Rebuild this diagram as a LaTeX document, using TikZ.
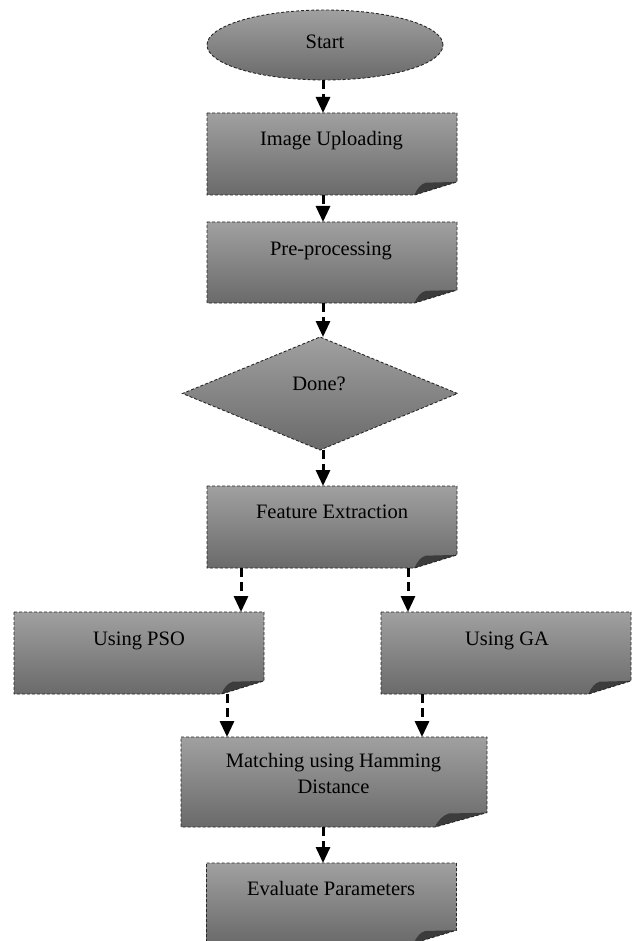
\documentclass[tikz,border=0pt]{standalone}
\usepackage{fontspec}
\setmainfont{Liberation Serif}
\usetikzlibrary{shapes.geometric,arrows.meta,calc}
\definecolor{topgray}{RGB}{160,160,160}
\definecolor{botgray}{RGB}{106,106,106}
\definecolor{folddark}{RGB}{60,60,60}
\newcommand{\docbox}[1]{%
  \coordinate (#1-A) at ($(#1.south east)!0.17!(#1.south west)$);
  \coordinate (#1-B) at ($(#1.south east)!0.16!(#1.north east)$);
  \coordinate (#1-cx) at ($(#1.south east)!0.125!(#1.south west)$);
  \coordinate (#1-cy) at ($(#1.south east)!0.15!(#1.north east)$);
  \coordinate (#1-C) at (#1-cx |- #1-cy);
  \shade[gshade] (#1.north west) -- (#1.north east) -- (#1-B) -- (#1-A) -- (#1.south west) -- cycle;
  \fill[folddark] (#1-A) .. controls +(3pt,7pt) and +(-5pt,-1.5pt) .. (#1-C) -- (#1-B) -- cycle;
  \draw[bord] (#1.north west) -- (#1.north east) -- (#1-B) -- (#1-A) -- (#1.south west) -- cycle;
}
\begin{document}
\begin{tikzpicture}[x=1pt,y=-1pt,
  every node/.style={inner sep=0pt, outer sep=0pt},
  lbl/.style={font=\fontsize{20.5}{26}\selectfont, align=center, text=black, anchor=base},
  gshade/.style={top color=topgray, bottom color=botgray},
  bord/.style={draw=black!85, line width=0.9pt, dash pattern=on 3pt off 2pt},
  holder/.style={rectangle, draw=none},
  arr/.style={draw=black, line width=3pt, dash pattern=on 9pt off 5pt, -{Triangle[length=16pt,width=14pt]}}
]
\useasboundingbox (0,0) rectangle (631,941);

% shapes
\node[ellipse, minimum width=236, minimum height=70, gshade, bord] (start) at (325,45) {};
\node[holder, minimum width=250, minimum height=82] (up) at (332,154) {};
\docbox{up}
\node[holder, minimum width=250, minimum height=81] (pre) at (332,262.5) {};
\docbox{pre}
\node[diamond, minimum width=275, minimum height=113, gshade, bord] (done) at (320,393.5) {};
\node[holder, minimum width=250, minimum height=82] (fe) at (332,527) {};
\docbox{fe}
\node[holder, minimum width=250, minimum height=82] (pso) at (139,653) {};
\docbox{pso}
\node[holder, minimum width=250, minimum height=82] (ga) at (506,653) {};
\docbox{ga}
\node[holder, minimum width=306, minimum height=90] (match) at (334,782) {};
\docbox{match}
\node[holder, minimum width=250, minimum height=80] (eval) at (331.5,903) {};
\docbox{eval}

% labels
\node[lbl] (start-t) at (325,48.5) {Start};
\node[lbl] (up-t) at (331.5,145.5) {Image Uploading};
\node[lbl] (pre-t) at (331,255) {Pre-processing};
\node[lbl] (done-t) at (319,390) {Done?};
\node[lbl] (fe-t) at (332,518) {Feature Extraction};
\node[lbl] (pso-t) at (139,645) {Using PSO};
\node[lbl] (ga-t) at (507,645) {Using GA};
\node[lbl] (match-t1) at (333.5,767) {Matching using Hamming};
\node[lbl] (match-t2) at (333.5,793) {Distance};
\node[lbl] (eval-t) at (331,895) {Evaluate Parameters};

% connectors
\draw[arr] ([xshift=-2pt]start.south) -- ([xshift=-9pt]up.north);
\draw[arr] ([xshift=-9pt]up.south) -- ([xshift=-9pt]pre.north);
\draw[arr] ([xshift=-9pt]pre.south) -- ([xshift=3pt]done.north);
\draw[arr] ([xshift=3pt]done.south) -- ([xshift=-9pt]fe.north);
\draw[arr] ([xshift=-91pt]fe.south) -- ([xshift=102pt]pso.north);
\draw[arr] ([xshift=76pt]fe.south) -- ([xshift=-98pt]ga.north);
\draw[arr] ([xshift=88pt]pso.south) -- ([xshift=-107pt]match.south |- match.north);
\draw[arr] ([xshift=-84pt]ga.south) -- ([xshift=88pt]match.south |- match.north);
\draw[arr] ([xshift=-11pt]match.south) -- ([xshift=-8.5pt]eval.north);
\end{tikzpicture}
\end{document}
